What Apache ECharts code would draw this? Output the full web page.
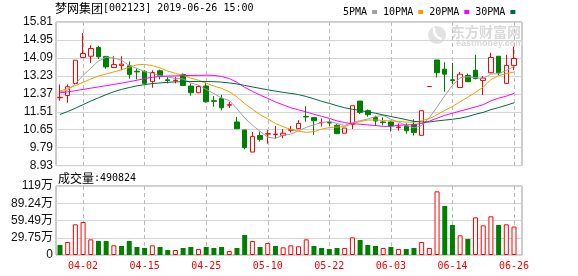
<!DOCTYPE html>
<html><head><meta charset="utf-8">
<script src="https://cdn.jsdelivr.net/npm/echarts@6/dist/echarts.min.js"></script>
<style>html,body{margin:0;padding:0;background:#fff;}#c{width:578px;height:276px;}</style>
</head><body><div id="c"></div>
<script>
const dates = ['03-28','03-29','04-01','04-02','04-03','04-04','04-08','04-09','04-10','04-11','04-12','04-15','04-16','04-17','04-18','04-19','04-22','04-23','04-24','04-25','04-26','04-29','04-30','05-06','05-07','05-08','05-09','05-10','05-13','05-14','05-15','05-16','05-17','05-20','05-21','05-22','05-23','05-24','05-27','05-28','05-29','05-30','05-31','06-03','06-04','06-05','06-06','06-10','06-11','06-12','06-13','06-14','06-17','06-18','06-19','06-20','06-21','06-24','06-25','06-26'];
const opens = [12.18,12.29,12.86,14.11,14.17,14.59,14.16,13.63,13.72,13.71,
  13.45,13.45,12.95,13.47,13.04,13.00,13.30,12.74,12.42,12.74,
  12.04,12.15,11.82,11.02,10.64,9.58,10.37,10.44,10.42,10.38,
  10.62,10.70,11.29,11.23,10.98,11.00,10.86,10.48,10.91,12.02,
  11.56,11.23,11.02,11.02,10.75,10.83,10.91,10.38,12.72,13.99,
  13.55,13.04,12.67,13.25,13.50,13.01,13.38,14.17,12.87,13.73];
const closes = [12.20,12.71,13.98,14.30,14.54,14.14,13.66,13.77,13.79,13.30,
  13.42,12.87,13.39,13.23,13.01,13.02,12.77,12.42,12.72,11.99,
  12.01,11.70,11.85,10.70,9.79,10.32,10.19,10.46,10.44,10.48,
  10.65,10.95,11.26,11.08,11.00,10.97,10.46,10.73,11.80,11.48,
  11.37,11.07,10.99,10.83,10.78,10.60,10.51,11.56,12.72,13.38,
  13.31,13.01,13.31,12.95,13.10,13.12,14.11,13.38,13.73,14.06];
const lows = [12.04,11.94,12.85,14.10,13.85,14.04,13.57,13.61,13.50,13.09,
  13.06,12.83,12.66,13.06,12.87,12.87,12.74,12.28,12.40,11.94,
  11.75,11.58,11.69,10.68,9.71,9.58,10.08,9.98,10.21,10.24,
  10.52,10.68,11.03,10.40,10.80,10.81,10.44,10.48,10.68,11.40,
  11.27,10.83,10.86,10.56,10.60,10.46,10.37,10.38,12.72,13.15,
  12.47,12.83,12.67,12.93,13.06,12.31,13.35,13.26,12.84,13.50];
const highs = [12.82,12.82,13.98,15.28,14.70,14.67,14.19,14.17,14.17,13.92,
  13.58,13.50,13.50,13.53,13.18,13.18,13.34,12.87,12.77,12.91,
  12.26,12.32,11.99,11.26,10.64,10.54,10.56,10.64,10.83,10.68,
  10.83,11.11,11.77,11.24,11.19,11.14,10.91,10.73,11.80,12.02,
  11.62,11.32,11.24,11.08,10.95,10.95,11.15,11.56,12.72,13.99,
  13.88,13.85,13.41,13.34,14.24,13.22,14.33,14.17,14.24,14.63];
const ma5 = [12.45,12.55,12.85,13.25,13.60,13.94,14.13,14.08,13.98,13.73,
  13.59,13.43,13.35,13.24,13.18,13.10,13.08,12.89,12.79,12.58,
  12.38,12.17,12.05,11.65,11.21,10.87,10.57,10.29,10.24,10.38,
  10.44,10.60,10.76,10.88,10.99,11.05,10.95,10.85,10.99,11.08,
  11.16,11.28,11.34,11.15,11.01,10.85,10.74,10.85,11.22,11.74,
  12.28,12.78,13.14,13.19,13.14,13.10,13.32,13.33,13.49,13.68];
const ma10 = [12.50,12.62,12.76,12.92,13.08,13.22,13.32,13.42,13.52,13.64,
  13.76,13.78,13.72,13.61,13.46,13.35,13.26,13.12,13.02,12.88,
  12.74,12.63,12.47,12.22,11.90,11.63,11.37,11.17,10.95,10.79,
  10.66,10.58,10.52,10.56,10.68,10.75,10.78,10.80,10.94,11.04,
  11.11,11.12,11.09,11.07,11.05,11.01,11.01,11.09,11.18,11.37,
  11.57,11.76,11.99,12.21,12.44,12.69,13.05,13.24,13.34,13.41];
const ma20 = [12.42,12.46,12.52,12.58,12.64,12.70,12.76,12.82,12.88,12.95,
  13.02,13.10,13.16,13.20,13.22,13.23,13.24,13.25,13.25,13.26,
  13.25,13.20,13.10,12.92,12.68,12.49,12.31,12.15,11.98,11.84,
  11.70,11.60,11.50,11.39,11.29,11.19,11.07,10.99,10.94,10.91,
  10.88,10.85,10.81,10.81,10.86,10.88,10.89,10.95,11.06,11.20,
  11.34,11.44,11.54,11.64,11.74,11.85,12.03,12.16,12.26,12.39];
const ma30 = [11.38,11.52,11.68,11.85,12.02,12.18,12.33,12.47,12.58,12.67,
  12.75,12.81,12.86,12.89,12.92,12.94,12.95,12.96,12.96,12.96,
  12.95,12.93,12.89,12.84,12.77,12.70,12.63,12.56,12.50,12.44,
  12.39,12.33,12.24,12.13,12.01,11.91,11.80,11.70,11.63,11.57,
  11.50,11.44,11.36,11.28,11.21,11.13,11.05,11.02,11.02,11.07,
  11.11,11.15,11.20,11.28,11.39,11.48,11.61,11.71,11.82,11.94];
const volumes = [172000,224000,529000,569000,270000,241000,241000,167000,155000,241000,
  138000,121000,167000,138000,86000,86000,121000,138000,103000,138000,
  121000,138000,69000,121000,345000,241000,138000,207000,155000,132000,
  167000,150000,270000,155000,121000,103000,121000,121000,305000,259000,
  172000,155000,121000,138000,103000,103000,121000,224000,121000,1098000,
  845000,517000,339000,276000,649000,511000,667000,517000,529000,490824];
const volUp = [0,1,1,1,1,0,0,1,0,0, 0,0,1,0,0,1,0,0,1,0, 0,0,1,0,0,1,0,1,0,1,
  1,1,1,0,0,0,0,1,1,0, 0,0,1,0,1,0,0,1,1,1, 0,0,1,0,1,1,1,0,1,1];
const tickDates = ['04-02','04-15','04-25','05-10','05-22','06-03','06-14','06-26'];
const priceTicks = ['8.93','9.79','10.65','11.51','12.37','13.23','14.09','14.95','15.81'];
const volTicks = ['0','29.75万','59.49万','89.24万','119万'];
const maNames = ['5PMA','10PMA','20PMA','30PMA'];

const RED = '#ff0000', GREEN = '#008000';
const FRAME_L = 56, FRAME_W = 466;
const DATA_L = 56.15, DATA_W = 461.7;
const P_TOP = 22, P_H = 143.6, V_TOP = 186, V_H = 69;

const candleData = opens.map((o, i) => [o, closes[i], lows[i], highs[i]]);
const volData = volumes.map((v, i) => ({
  value: v,
  itemStyle: volUp[i] ? {color: '#ffffff', borderColor: RED, borderWidth: 1} : {color: GREEN, borderWidth: 0}
}));
// half-step category list: band edges (even) and band centres (odd) for the dashed guides
const halfSteps = [];
for (let k = 0; k <= dates.length * 2; k++) halfSteps.push(k % 2 ? dates[(k - 1) / 2] : '|' + k);

function guideAxis(gi) {
  return {gridIndex: gi, type: 'category', data: halfSteps, boundaryGap: false, position: 'top', z: 2,
    axisLine: {show: false}, axisTick: {show: false}, axisLabel: {show: false},
    splitLine: {show: true, interval: (idx, val) => tickDates.includes(val),
      lineStyle: {color: '#bbbbbb', width: 1, type: [4, 3]}}};
}

const chart = echarts.init(document.getElementById('c'));
const maColors = ['#a0a0a0', '#f0a000', '#ff00ff', '#006b3c'];
const maData = [ma5, ma10, ma20, ma30];

const option = {
  animation: false,
  backgroundColor: '#ffffff',
  legend: {
    data: maNames, left: 338, top: 2, icon: 'rect', itemWidth: 5, itemHeight: 4,
    align: 'right', itemGap: 6, selectedMode: false,
    textStyle: {fontFamily: 'DejaVu Sans Mono', fontSize: 10, color: '#000'}
  },
  grid: [
    {left: FRAME_L, top: P_TOP, width: FRAME_W, height: P_H, show: true, backgroundColor: 'transparent', borderColor: '#9a9a9a', borderWidth: 1, z: 0},
    {left: DATA_L, top: P_TOP, width: DATA_W, height: P_H, show: false, z: 1},
    {left: FRAME_L, top: V_TOP, width: FRAME_W, height: V_H, show: true, backgroundColor: 'transparent', borderColor: '#9a9a9a', borderWidth: 1, z: 0},
    {left: DATA_L, top: V_TOP, width: DATA_W, height: V_H, show: false, z: 1}
  ],
  xAxis: [
    {gridIndex: 0, type: 'value', min: 0, max: 1, show: false},
    {gridIndex: 1, type: 'category', data: dates, boundaryGap: true, show: false},
    {gridIndex: 2, type: 'value', min: 0, max: 1, show: false},
    {gridIndex: 3, type: 'category', data: dates, boundaryGap: true,
      axisLine: {show: false}, axisTick: {show: false}, splitLine: {show: false},
      axisLabel: {interval: (idx, val) => tickDates.includes(val), color: RED,
        fontFamily: 'DejaVu Sans Mono', fontSize: 10, margin: 6}},
    guideAxis(1),
    guideAxis(3)
  ],
  yAxis: [
    {gridIndex: 0, type: 'value', min: 0, max: 8, interval: 1,
      axisLine: {show: false}, axisTick: {show: false},
      axisLabel: {formatter: v => priceTicks[Math.round(v)], color: '#111', fontFamily: 'Liberation Sans', fontSize: 12, margin: 3, showMinLabel: true, showMaxLabel: true},
      splitLine: {show: true, lineStyle: {color: '#d4d4d4', width: 1}}},
    {gridIndex: 1, type: 'value', min: 8.93, max: 15.81, show: false, splitLine: {show: false}},
    {gridIndex: 2, type: 'value', min: 0, max: 1190000, interval: 297500,
      axisLine: {show: false}, axisTick: {show: false},
      axisLabel: {formatter: v => volTicks[Math.round(v / 297500)], color: '#111', fontFamily: 'Liberation Sans, Noto Sans CJK SC', fontSize: 12, margin: 3, showMinLabel: true, showMaxLabel: true},
      splitLine: {show: true, lineStyle: {color: '#d4d4d4', width: 1}}},
    {gridIndex: 3, type: 'value', min: 0, max: 1190000, show: false, splitLine: {show: false}}
  ],
  series: [
    {type: 'candlestick', xAxisIndex: 1, yAxisIndex: 1, data: candleData, barWidth: 5, z: 3,
      itemStyle: {color: '#ffffff', color0: GREEN, borderColor: RED, borderColor0: GREEN, borderWidth: 1}},
    ...maNames.map((n, k) => ({
      name: n, type: 'line', xAxisIndex: 1, yAxisIndex: 1, data: maData[k], symbol: 'none',
      color: maColors[k], lineStyle: {width: 1, color: maColors[k]}, z: 4, silent: true
    })),
    {type: 'bar', xAxisIndex: 3, yAxisIndex: 3, data: volData, barWidth: 5, z: 3}
  ],
  graphic: [
    {type: 'text', x: 55, y: 8, z: 10, style: {
      text: '{c|梦网集团}{a|[002123] 2019-06-26 15:00}', verticalAlign: 'middle',
      rich: {c: {fontFamily: 'Noto Sans CJK SC', fontSize: 12, fill: '#000'},
             a: {fontFamily: 'DejaVu Sans Mono', fontSize: 10, fill: '#000'}}}},
    {type: 'text', x: 58, y: 178, z: 10, style: {
      text: '{c|成交量}{a|:490824}', verticalAlign: 'middle',
      rich: {c: {fontFamily: 'Noto Sans CJK SC', fontSize: 12, fill: '#000'},
             a: {fontFamily: 'DejaVu Sans Mono', fontSize: 10, fill: '#000'}}}},
    {type: 'text', x: 451, y: 32, z: 0, style: {text: '东方财富网', verticalAlign: 'middle',
      font: 'bold 14px "Noto Sans CJK SC"', fill: '#dadada'}},
    {type: 'text', x: 456, y: 43.5, z: 0, style: {text: 'eastmoney.com', verticalAlign: 'middle',
      font: 'bold 9px "Liberation Sans"', fill: '#dadada'}},
    {type: 'circle', z: 0, shape: {cx: 437, cy: 35, r: 9}, style: {fill: '#e2e2e2'}},
    {type: 'arc', z: 0, shape: {cx: 443, cy: 30, r: 9, startAngle: 1.7, endAngle: 3.4}, style: {stroke: '#ffffff', lineWidth: 2.5, fill: null}}
  ]
};
chart.setOption(option);
</script>
</body></html>
